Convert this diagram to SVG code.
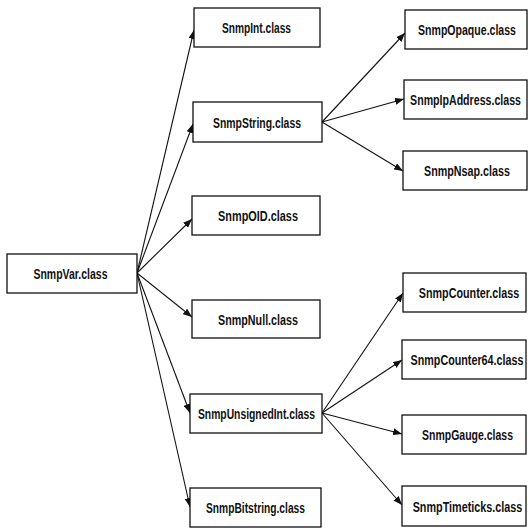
<svg xmlns="http://www.w3.org/2000/svg" width="528" height="530" viewBox="0 0 528 530">
  <defs>
    <style>
      .box { fill: #ffffff; stroke: #111111; stroke-width: 1.3; }
      .lbl { font-family: "Liberation Sans", Arial, sans-serif; font-weight: bold; font-size: 15px; fill: #111111; text-anchor: middle; }
      .edge { stroke: #111111; stroke-width: 1.1; fill: none; marker-end: url(#head); }
    </style>
    <marker id="head" markerUnits="userSpaceOnUse" markerWidth="9" markerHeight="7" refX="9" refY="3.5" orient="auto">
      <path d="M0,0 L9,3.5 L0,7 z" fill="#111111"/>
    </marker>
  </defs>
  <rect width="528" height="530" fill="#ffffff"/>

  <!-- inheritance connectors -->
  <g id="connectors">
    <line class="edge" x1="137" y1="273" x2="194" y2="30"/>
    <line class="edge" x1="137" y1="273" x2="193" y2="124"/>
    <line class="edge" x1="137" y1="273" x2="192" y2="219"/>
    <line class="edge" x1="137" y1="273" x2="192" y2="317"/>
    <line class="edge" x1="137" y1="273" x2="190" y2="413"/>
    <line class="edge" x1="137" y1="273" x2="190" y2="507"/>
    <line class="edge" x1="322" y1="122" x2="405" y2="33"/>
    <line class="edge" x1="322" y1="122" x2="404" y2="99"/>
    <line class="edge" x1="322" y1="122" x2="403" y2="171"/>
    <line class="edge" x1="322" y1="413" x2="403" y2="293"/>
    <line class="edge" x1="322" y1="413" x2="402" y2="360"/>
    <line class="edge" x1="322" y1="413" x2="402" y2="434"/>
    <line class="edge" x1="322" y1="413" x2="402" y2="505"/>
  </g>

  <!-- labels are set in a narrowed bold sans via horizontal scaling -->
  <g id="SnmpVar">
    <rect class="box" x="7" y="254" width="130" height="39"/>
    <text class="lbl" transform="translate(70.5 279) scale(0.70 1)">SnmpVar.class</text>
  </g>
  <g id="SnmpInt">
    <rect class="box" x="194" y="8" width="126" height="39"/>
    <text class="lbl" transform="translate(256.5 33) scale(0.68 1)">SnmpInt.class</text>
  </g>
  <g id="SnmpString">
    <rect class="box" x="193" y="102" width="129" height="40"/>
    <text class="lbl" transform="translate(257 127.5) scale(0.695 1)">SnmpString.class</text>
  </g>
  <g id="SnmpOID">
    <rect class="box" x="192" y="196" width="128" height="39"/>
    <text class="lbl" transform="translate(258 221) scale(0.727 1)">SnmpOID.class</text>
  </g>
  <g id="SnmpNull">
    <rect class="box" x="192" y="300" width="128" height="38"/>
    <text class="lbl" transform="translate(258 324.5) scale(0.716 1)">SnmpNull.class</text>
  </g>
  <g id="SnmpUnsignedInt">
    <rect class="box" x="190" y="394" width="132" height="39"/>
    <text class="lbl" transform="translate(256.5 419) scale(0.689 1)">SnmpUnsignedInt.class</text>
  </g>
  <g id="SnmpBitstring">
    <rect class="box" x="190" y="488" width="131" height="39"/>
    <text class="lbl" transform="translate(255.5 513) scale(0.683 1)">SnmpBitstring.class</text>
  </g>
  <g id="SnmpOpaque">
    <rect class="box" x="405" y="10" width="122" height="39"/>
    <text class="lbl" transform="translate(467 35) scale(0.704 1)">SnmpOpaque.class</text>
  </g>
  <g id="SnmpIpAddress">
    <rect class="box" x="404" y="80" width="123" height="39"/>
    <text class="lbl" transform="translate(465.5 105) scale(0.708 1)">SnmpIpAddress.class</text>
  </g>
  <g id="SnmpNsap">
    <rect class="box" x="403" y="151" width="124" height="39"/>
    <text class="lbl" transform="translate(467 176) scale(0.716 1)">SnmpNsap.class</text>
  </g>
  <g id="SnmpCounter">
    <rect class="box" x="403" y="273" width="123" height="39"/>
    <text class="lbl" transform="translate(469 298) scale(0.717 1)">SnmpCounter.class</text>
  </g>
  <g id="SnmpCounter64">
    <rect class="box" x="402" y="340" width="124" height="39"/>
    <text class="lbl" transform="translate(467 365) scale(0.717 1)">SnmpCounter64.class</text>
  </g>
  <g id="SnmpGauge">
    <rect class="box" x="402" y="415" width="124" height="39"/>
    <text class="lbl" transform="translate(467.5 440) scale(0.70 1)">SnmpGauge.class</text>
  </g>
  <g id="SnmpTimeticks">
    <rect class="box" x="402" y="486" width="124" height="40"/>
    <text class="lbl" transform="translate(467.5 511.5) scale(0.721 1)">SnmpTimeticks.class</text>
  </g>
</svg>
